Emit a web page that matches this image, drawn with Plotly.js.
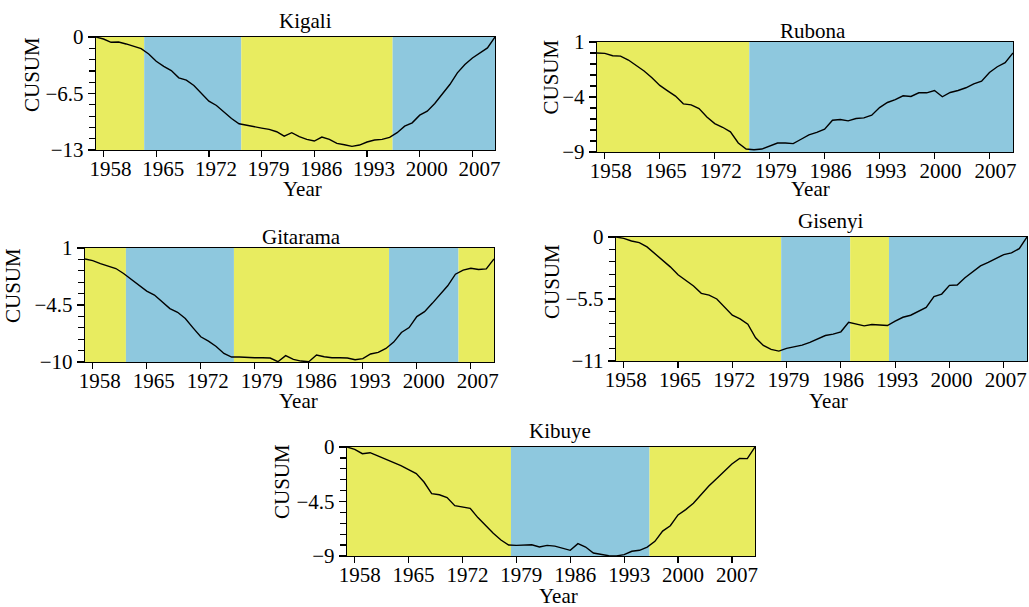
<!DOCTYPE html>
<html>
<head>
<meta charset="utf-8">
<script src="https://cdn.plot.ly/plotly-3.0.1.min.js"></script>
<style>html,body{margin:0;padding:0;background:#fff}#chart{width:1029px;height:607px}</style>
</head>
<body>
<div id="chart"></div>
<script>
// ---------------- DATA ----------------
const years = [];
for (let y = 1957; y <= 2010; y++) years.push(y);

const kigali = [0,-0.23,-0.61,-0.57,-0.80,-1.07,-1.34,-1.95,-2.79,-3.37,-3.86,-4.70,-4.97,-5.58,-6.54,-7.38,-7.88,-8.64,-9.37,-9.98,
  -10.17,-10.33,-10.48,-10.63,-10.90,-11.40,-11.01,-11.47,-11.78,-11.97,-11.51,-11.78,-12.24,-12.39,-12.58,-12.43,-12.08,-11.85,-11.78,-11.55,
  -11.01,-10.25,-9.87,-8.99,-8.53,-7.65,-6.54,-5.47,-4.13,-3.17,-2.41,-1.84,-1.26,0];
const rubona = [0,-0.03,-0.25,-0.28,-0.64,-1.16,-1.64,-2.25,-2.95,-3.44,-3.92,-4.62,-4.71,-5.05,-5.81,-6.42,-6.75,-7.17,-8.18,-8.73,
  -8.79,-8.73,-8.42,-8.18,-8.18,-8.24,-7.84,-7.45,-7.21,-6.93,-6.11,-6.05,-6.17,-5.96,-5.90,-5.66,-4.96,-4.50,-4.23,-3.89,
  -3.95,-3.62,-3.62,-3.41,-3.98,-3.59,-3.41,-3.16,-2.80,-2.56,-1.77,-1.25,-0.88,0];
const gitarama = [-0.06,-0.22,-0.50,-0.76,-0.98,-1.46,-2.01,-2.58,-3.16,-3.54,-4.18,-4.85,-5.20,-5.81,-6.71,-7.57,-7.99,-8.50,-9.17,-9.52,
  -9.52,-9.59,-9.59,-9.59,-9.62,-9.97,-9.39,-9.75,-9.91,-9.97,-9.33,-9.49,-9.59,-9.59,-9.62,-9.78,-9.68,-9.23,-9.07,-8.69,
  -8.08,-7.15,-6.68,-5.62,-5.14,-4.34,-3.45,-2.65,-1.53,-1.14,-0.95,-1.08,-1.01,-0.06];
const gisenyi = [0,-0.12,-0.35,-0.50,-0.88,-1.47,-2.00,-2.65,-3.35,-3.88,-4.35,-5.00,-5.15,-5.50,-6.24,-6.94,-7.26,-7.74,-8.94,-9.62,
  -9.97,-10.12,-9.88,-9.76,-9.59,-9.35,-9.03,-8.74,-8.62,-8.41,-7.56,-7.71,-7.88,-7.76,-7.82,-7.85,-7.47,-7.12,-6.94,-6.62,
  -6.24,-5.29,-5.06,-4.29,-4.26,-3.62,-3.09,-2.56,-2.26,-1.91,-1.56,-1.41,-1.03,0];
const kibuye = [0,-0.19,-0.55,-0.47,-0.74,-1.02,-1.24,-1.54,-1.87,-2.20,-2.89,-3.85,-3.94,-4.18,-4.84,-4.93,-5.06,-5.83,-6.50,-7.13,
  -7.68,-8.09,-8.12,-8.07,-8.07,-8.26,-8.12,-8.18,-8.37,-8.53,-7.98,-8.26,-8.75,-8.86,-8.98,-8.99,-8.89,-8.61,-8.53,-8.26,
  -7.79,-6.94,-6.50,-5.61,-5.17,-4.65,-3.91,-3.22,-2.62,-2.01,-1.40,-0.94,-0.96,0];

// phase boundaries (years) and phase type per segment
const kigaliBreaks   = [1957, 1963.4, 1976.3, 1996.4, 2010];
const kigaliPhases   = ['A','B','A','B'];
const rubonaBreaks   = [1957, 1976.4, 2010];
const rubonaPhases   = ['A','B'];
const gitaramaBreaks = [1957, 1962.3, 1976.3, 1996.4, 2005.4, 2010];
const gitaramaPhases = ['A','B','A','B','A'];
const gisenyiBreaks  = [1957, 1978.3, 1987.2, 1992.2, 2010];
const gisenyiPhases  = ['A','B','A','B'];
const kibuyeBreaks   = [1957, 1978.3, 1996.3, 2010];
const kibuyePhases   = ['A','B','A'];

const kigaliTicks   = [0, -6.5, -13];
const rubonaTicks   = [1, -4, -9];
const gitaramaTicks = [1, -4.5, -10];
const gisenyiTicks  = [0, -5.5, -11];
const kibuyeTicks   = [0, -4.5, -9];

const xTickStart = 1958, xTickStep = 7;
const xRange = [1957, 2010];

// ---------------- LAYOUT ----------------
const W = 1029, H = 607;
const FONT = 'Liberation Serif';
const phaseColor = {A: '#e8ec60', B: '#8ec8de'};
const px = v => v / W, py = v => 1 - v / H;

const panels = [
  {name:'Kigali',   y:kigali,   breaks:kigaliBreaks,   phases:kigaliPhases,   ticks:kigaliTicks,
   box:[96,495,37,150],  title:[305,21],  xt:[302,188.5], yt:[32,75], shift:7},
  {name:'Rubona',   y:rubona,   breaks:rubonaBreaks,   phases:rubonaPhases,   ticks:rubonaTicks,
   box:[597,1013,42,152], title:[813,30.5], xt:[810,188.5], yt:[550,77.5], shift:6},
  {name:'Gitarama', y:gitarama, breaks:gitaramaBreaks, phases:gitaramaPhases, ticks:gitaramaTicks,
   box:[85,494,248,362], title:[301,236.7], xt:[298,401], yt:[13,286], shift:7},
  {name:'Gisenyi',  y:gisenyi,  breaks:gisenyiBreaks,  phases:gisenyiPhases,  ticks:gisenyiTicks,
   box:[616,1027,237,361], title:[830,221], xt:[828,401], yt:[552,282], shift:2},
  {name:'Kibuye',   y:kibuye,   breaks:kibuyeBreaks,   phases:kibuyePhases,   ticks:kibuyeTicks,
   box:[347,755,447,556], title:[560,431], xt:[558,596], yt:[282,482], shift:5}
];

const data = [];
const layout = {
  width: W, height: H,
  margin: {l:0, r:0, t:0, b:0},
  paper_bgcolor: '#fff', plot_bgcolor: '#fff',
  showlegend: false,
  font: {family: FONT, size: 20, color: '#000'},
  shapes: [], annotations: []
};

const fmt = v => (v < 0 ? '\u2212' : '') + Math.abs(v);
const TICKSIZE = 21;

panels.forEach((p, i) => {
  const n = i + 1;
  const xa = 'xaxis' + (n === 1 ? '' : n), ya = 'yaxis' + (n === 1 ? '' : n);
  const xr = 'x' + (n === 1 ? '' : n), yr = 'y' + (n === 1 ? '' : n);
  const [x0, x1, y0, y1] = p.box;
  const lo = Math.min(...p.ticks), hi = Math.max(...p.ticks);

  data.push({x: years, y: p.y, xaxis: xr, yaxis: yr, type: 'scatter', mode: 'lines',
             line: {color: '#000', width: 1.4}, hoverinfo: 'skip'});

  layout[xa] = {
    domain: [px(x0), px(x1)], anchor: yr, range: xRange, automargin: false,
    showgrid: false, zeroline: false, showline: true, mirror: true,
    linecolor: '#000', linewidth: 1.3,
    ticks: 'outside', ticklen: 6, tickwidth: 1.2, tickcolor: '#000',
    tickmode: 'linear', tick0: xTickStart, dtick: xTickStep, tickangle: 0,
    ticklabelstandoff: -7, ticklabelshift: p.shift, ticklabeloverflow: 'allow',
    tickfont: {family: FONT, size: TICKSIZE, color: '#000'}
  };
  layout[ya] = {
    domain: [py(y1), py(y0)], anchor: xr, range: [lo, hi], automargin: false,
    showgrid: false, zeroline: false, showline: true, mirror: true,
    linecolor: '#000', linewidth: 1.3,
    ticks: 'outside', ticklen: 7, tickwidth: 1.2, tickcolor: '#000',
    tickmode: 'array', tickvals: p.ticks, ticktext: p.ticks.map(fmt), tickangle: 0,
    ticklabeloverflow: 'allow',
    minor: {ticks: 'outside', ticklen: 6, tickwidth: 1.2, tickcolor: '#000',
            tickmode: 'linear', tick0: lo, dtick: (hi - lo) / 10, showgrid: false},
    tickfont: {family: FONT, size: TICKSIZE, color: '#000'}
  };

  for (let k = 0; k < p.phases.length; k++) {
    layout.shapes.push({type: 'rect', layer: 'below', xref: xr, yref: yr + ' domain',
      x0: p.breaks[k], x1: p.breaks[k + 1], y0: 0, y1: 1,
      fillcolor: phaseColor[p.phases[k]], line: {width: 0}});
  }

  layout.annotations.push({text: p.name, xref: 'paper', yref: 'paper',
    x: px(p.title[0]), y: py(p.title[1]), xanchor: 'center', yanchor: 'middle',
    showarrow: false, font: {family: FONT, size: 21, color: '#000'}});
  layout.annotations.push({text: 'Year', xref: 'paper', yref: 'paper',
    x: px(p.xt[0]), y: py(p.xt[1]), xanchor: 'center', yanchor: 'middle',
    showarrow: false, font: {family: FONT, size: 21, color: '#000'}});
  layout.annotations.push({text: 'CUSUM', xref: 'paper', yref: 'paper', textangle: -90,
    x: px(p.yt[0]), y: py(p.yt[1]), xanchor: 'center', yanchor: 'middle',
    showarrow: false, font: {family: FONT, size: 21, color: '#000'}});
});

Plotly.newPlot('chart', data, layout, {staticPlot: true});
</script>
</body>
</html>
